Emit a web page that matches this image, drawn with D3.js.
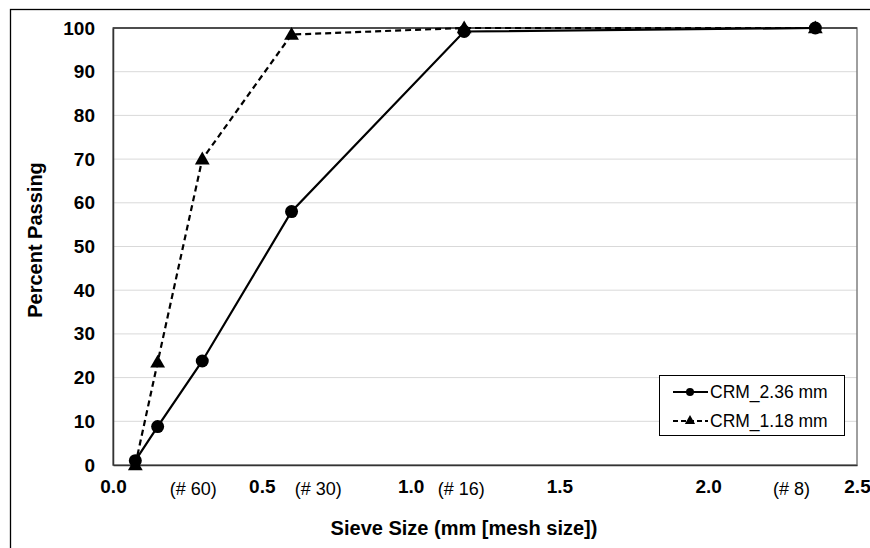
<!DOCTYPE html>
<html>
<head>
<meta charset="utf-8">
<style>
  body { margin: 0; background: #fff; }
  svg { font-family: Arial, 'Liberation Sans', sans-serif; }
</style>
</head>
<body>
<svg width="870" height="548"></svg>
<script src="https://d3js.org/d3.v7.min.js"></script>
<script>
// sieve sizes in mm
const sieveSizes = [0.075, 0.15, 0.3, 0.6, 1.18, 2.36];
const crm236 = [1, 8.8, 23.8, 58, 99.2, 100];
const crm118 = [0, 23.5, 70, 98.5, 100, 100];
const xTicks = [0.0, 0.5, 1.0, 1.5, 2.0, 2.5];
const yTicks = [0, 10, 20, 30, 40, 50, 60, 70, 80, 90, 100];
const meshLabels = ["(# 60)", "(# 30)", "(# 16)", "(# 8)"];
const meshPos = [0.27, 0.69, 1.17, 2.28];

let svg = d3.select("svg")
let margin = { top: 28, right: 13, bottom: 83, left: 113 }
let width = 870, height = 548

// outer chart frame
svg.append("rect")
    .attr("x", 10.5).attr("y", 9.5)
    .attr("width", 880).attr("height", 560)
    .attr("fill", "none").attr("stroke", "#000").attr("stroke-width", 1.3)

let x = d3.scaleLinear().domain([0, 2.5]).range([margin.left, width - margin.right])
let y = d3.scaleLinear().domain([0, 100]).range([height - margin.bottom, margin.top])

// gridlines
svg.append("g")
    .selectAll("line")
    .data(yTicks.filter(d => d > 0 && d < 100))
    .join("line")
    .attr("x1", x(0)).attr("x2", x(2.5))
    .attr("y1", d => y(d)).attr("y2", d => y(d))
    .attr("stroke", "#d9d9d9").attr("stroke-width", 1)

// plot box
svg.append("rect")
    .attr("x", x(0)).attr("y", y(100))
    .attr("width", x(2.5) - x(0)).attr("height", y(0) - y(100))
    .attr("fill", "none").attr("stroke", "#7f7f7f").attr("stroke-width", 1.5)
svg.append("line")
    .attr("x1", x(0)).attr("x2", x(2.5)).attr("y1", y(100)).attr("y2", y(100))
    .attr("stroke", "#333").attr("stroke-width", 1.3)

// axes
let yAxis = svg.append("g")
    .attr("transform", `translate(${x(0)},0)`)
    .call(d3.axisLeft(y).tickValues(yTicks).tickSize(0).tickPadding(18))
yAxis.select(".domain").attr("stroke", "#333").attr("stroke-width", 1.5)
yAxis.selectAll("text").attr("font-size", 19).attr("font-weight", "bold").attr("fill", "#000")

let xAxis = svg.append("g")
    .attr("transform", `translate(0,${y(0)})`)
    .call(d3.axisBottom(x).tickValues(xTicks).tickFormat(d3.format(".1f")).tickSize(0).tickPadding(15))
xAxis.select(".domain").attr("stroke", "#333").attr("stroke-width", 1.5)
xAxis.selectAll("text").attr("font-size", 19).attr("font-weight", "bold").attr("fill", "#000")

// mesh labels
svg.append("g")
    .selectAll("text")
    .data(meshLabels)
    .join("text")
    .attr("x", (d, i) => x(meshPos[i]))
    .attr("y", y(0) + 30)
    .attr("text-anchor", "middle")
    .attr("font-size", 18)
    .text(d => d)

// axis titles
svg.append("text")
    .attr("x", 464).attr("y", 535)
    .attr("text-anchor", "middle")
    .attr("font-size", 20).attr("font-weight", "bold")
    .text("Sieve Size (mm [mesh size])")

svg.append("text")
    .attr("transform", "translate(42,240) rotate(-90)")
    .attr("text-anchor", "middle")
    .attr("font-size", 20).attr("font-weight", "bold")
    .text("Percent Passing")

// series
let line = d3.line().x(d => x(d[0])).y(d => y(d[1]))
let s1 = sieveSizes.map((s, i) => [s, crm236[i]])
let s2 = sieveSizes.map((s, i) => [s, crm118[i]])

svg.append("path")
    .attr("d", line(s2))
    .attr("fill", "none").attr("stroke", "#000").attr("stroke-width", 2.2)
    .attr("stroke-dasharray", "6,4")

svg.append("path")
    .attr("d", line(s1))
    .attr("fill", "none").attr("stroke", "#000").attr("stroke-width", 2.2)

let tri = d3.symbol().type(d3.symbolTriangle).size(95)

svg.append("g")
    .selectAll("circle")
    .data(s1)
    .join("circle")
    .attr("cx", d => x(d[0])).attr("cy", d => y(d[1]))
    .attr("r", 6.5).attr("fill", "#000")

svg.append("g")
    .selectAll("path")
    .data(s2)
    .join("path")
    .attr("d", tri)
    .attr("transform", d => `translate(${x(d[0])},${y(d[1]) + 1})`)
    .attr("fill", "#000")

// legend
let lg = svg.append("g").attr("transform", "translate(659,375)")
lg.append("rect")
    .attr("x", 0.5).attr("y", 0.5).attr("width", 185).attr("height", 60)
    .attr("fill", "#fff").attr("stroke", "#000").attr("stroke-width", 1)

let legendItems = [
    { name: "CRM_2.36 mm", dash: null, shape: "circle" },
    { name: "CRM_1.18 mm", dash: "5,3", shape: "tri" }
]
legendItems.forEach((d, i) => {
    let yy = 17 + i * 29
    lg.append("line")
        .attr("x1", 14).attr("x2", 49).attr("y1", yy).attr("y2", yy)
        .attr("stroke", "#000").attr("stroke-width", 2)
        .attr("stroke-dasharray", d.dash)
    if (d.shape == "circle") {
        lg.append("circle").attr("cx", 31).attr("cy", yy).attr("r", 4).attr("fill", "#000")
    } else {
        lg.append("path").attr("d", d3.symbol().type(d3.symbolTriangle).size(45))
            .attr("transform", `translate(31,${yy})`).attr("fill", "#000")
    }
    lg.append("text")
        .attr("x", 51).attr("y", yy + 6)
        .attr("font-size", 17.5)
        .text(d.name)
})
</script>
</body>
</html>
